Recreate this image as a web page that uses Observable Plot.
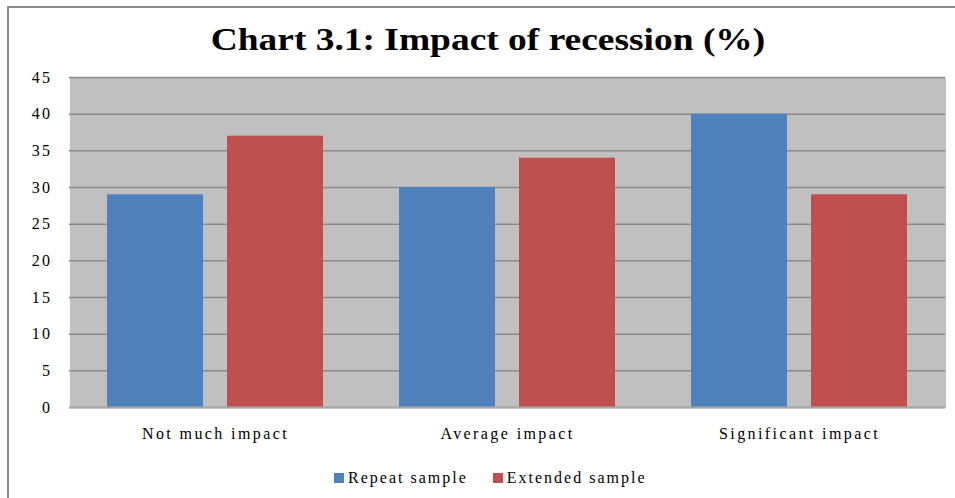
<!DOCTYPE html>
<html>
<head>
<meta charset="utf-8">
<script src="https://cdn.jsdelivr.net/npm/d3@7"></script>
<script src="https://cdn.jsdelivr.net/npm/@observablehq/plot@0.6"></script>
<style>
  body { margin: 0; background: #fff; width: 955px; height: 498px; overflow: hidden; position: relative; font-family: "Liberation Serif", "Times New Roman", serif; }
  #box { position: absolute; left: 7px; top: 6px; width: 980px; height: 520px; border-top: 2px solid #8c8c8c; border-left: 2px solid #8c8c8c; }
  #title { position: absolute; left: 0; width: 976px; top: 23px; text-align: center; font-size: 32px; line-height: 32px; font-weight: bold; color: #000; transform: scaleX(1.17); transform-origin: 488px 0; }
  #chart { position: absolute; left: 0; top: 60px; }
  #legend { position: absolute; left: 334px; top: 470px; display: flex; font-size: 16px; line-height: 16px; letter-spacing: 2px; color: #000; }
  #legend .item { display: flex; align-items: center; margin-right: 25px; }
  #legend .sw { width: 10px; height: 10px; margin-right: 4px; }
  #chart svg text { font-family: "Liberation Serif", "Times New Roman", serif; }
</style>
</head>
<body>
<div id="box"></div>
<div id="title">Chart 3.1: Impact of recession (%)</div>
<div id="chart"></div>
<div id="legend"></div>
<script>
const categories = ["Not much impact", "Average impact", "Significant impact"];
const seriesNames = ["Repeat sample", "Extended sample"];
const repeatValues = [29, 30, 40];
const extendedValues = [37, 34, 29];
const seriesColors = ["#4F81BD", "#C0504D"];
const yTicks = [0, 5, 10, 15, 20, 25, 30, 35, 40, 45];

const rows = categories.flatMap((c, i) => [
  { category: c, series: seriesNames[0], value: repeatValues[i] },
  { category: c, series: seriesNames[1], value: extendedValues[i] }
]);

const chart = Plot.plot({
  width: 955,
  height: 400,
  marginLeft: 69,
  marginRight: 10,
  marginTop: 17,
  marginBottom: 53,
  style: { fontSize: "16px", letterSpacing: "2.4px", color: "#000", background: "transparent" },
  fx: { domain: categories, axis: "bottom", paddingInner: 0, paddingOuter: 0, label: null, tickSize: 0, tickPadding: 20 },
  x: { domain: seriesNames, paddingInner: 0.198, paddingOuter: 0.306, axis: null },
  y: { domain: [0, 45], ticks: yTicks, tickSize: 0, tickPadding: 17, label: null },
  color: { domain: seriesNames, range: seriesColors },
  marks: [
    Plot.frame({ fill: "#C0C0C0", shapeRendering: "crispEdges" }),
    Plot.ruleY(yTicks, { stroke: "#8a8a8a", strokeWidth: 1.5 }),
    Plot.barY(rows, { fx: "category", x: "series", y: "value", fill: "series" }),
    Plot.ruleY([0], { stroke: "#a8a8a8", strokeWidth: 2 })
  ]
});
document.getElementById("chart").appendChild(chart);

const legend = document.getElementById("legend");
seriesNames.forEach((name, i) => {
  const item = document.createElement("div");
  item.className = "item";
  item.innerHTML = `<span class="sw" style="background:${seriesColors[i]}"></span><span>${name}</span>`;
  legend.appendChild(item);
});
</script>
</body>
</html>
